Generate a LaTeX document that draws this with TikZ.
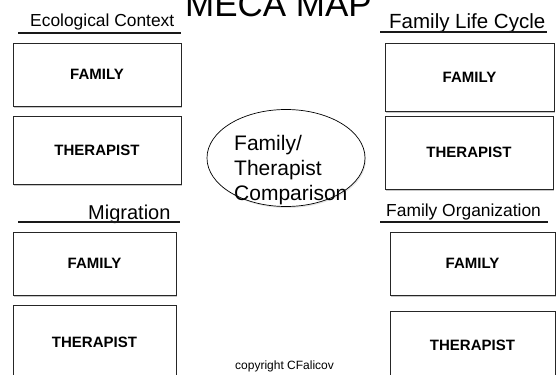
\documentclass[tikz,border=0pt]{standalone}
\usepackage{fontspec}
\setmainfont{Liberation Sans}
\usetikzlibrary{shapes.geometric,shadows}

\tikzset{
  card/.style={draw=black!85, line width=0.8pt, fill=white, inner sep=0pt,
    font=\bfseries\fontsize{15}{18}\selectfont,
    drop shadow={shadow xshift=1pt, shadow yshift=-1.5pt, fill=black, opacity=0.22}},
  heading/.style={anchor=base west, inner sep=0pt},
  rule/.style={line width=1.5pt, black!90}
}

\begin{document}
\begin{tikzpicture}[x=1pt, y=-1pt]
\clip (0,0) rectangle (558,375);
\fill[white] (0,0) rectangle (558,375);

% title
\node[anchor=base, inner sep=0pt, font=\fontsize{35}{40}\selectfont] (title) at (278.5,16) {MECA MAP};

% left column
\node[heading, font=\fontsize{17.4}{20}\selectfont] (eco) at (30,26) {Ecological Context};
\draw[rule] (18,33) -- (181,33);
\node[card, minimum width=168pt, minimum height=63pt] (lfam1) at (97,74.5) {FAMILY};
\node[card, minimum width=168pt, minimum height=68pt] (lther1) at (97,150) {THERAPIST};

\node[heading, font=\fontsize{20}{24}\selectfont] (mig) at (88,219) {Migration};
\draw[rule] (18,222) -- (180,222);
\node[card, minimum width=163pt, minimum height=63pt] (lfam2) at (94.5,263.5) {FAMILY};
\node[card, minimum width=163pt, minimum height=74pt] (lther2) at (94.5,342) {THERAPIST};

% right column
\node[heading, font=\fontsize{20.5}{24}\selectfont] (flc) at (389,28) {Family Life Cycle};
\draw[rule] (380,32) -- (547,32);
\node[card, minimum width=169pt, minimum height=68pt] (rfam1) at (469.5,77) {FAMILY};
\node[card, minimum width=168pt, minimum height=73pt] (rther1) at (469,152.5) {THERAPIST};

\node[heading, font=\fontsize{17.4}{20}\selectfont] (forg) at (386,216) {Family Organization};
\draw[rule] (380,222) -- (548,222);
\node[card, minimum width=165pt, minimum height=63pt] (rfam2) at (472.5,263.5) {FAMILY};
\node[card, minimum width=165pt, minimum height=68pt] (rther2) at (472.5,345) {THERAPIST};

% centre comparison
\node[ellipse, draw=black, line width=0.7pt, minimum width=158pt, minimum height=97pt,
  drop shadow={shadow xshift=1pt, shadow yshift=-1.5pt, fill=black, opacity=0.1}, fill=white]
  (cmp) at (286,158) {};
% base anchor of a multi-line node sits on its last line
\node[anchor=base west, inner sep=0pt, align=left, font=\fontsize{21}{25}\selectfont]
  (cmptext) at (234,200) {Family/\\Therapist\\Comparison};

% footer
\node[anchor=base west, inner sep=0pt, font=\fontsize{12}{14}\selectfont] (copy) at (235,369) {copyright CFalicov};
\end{tikzpicture}
\end{document}
